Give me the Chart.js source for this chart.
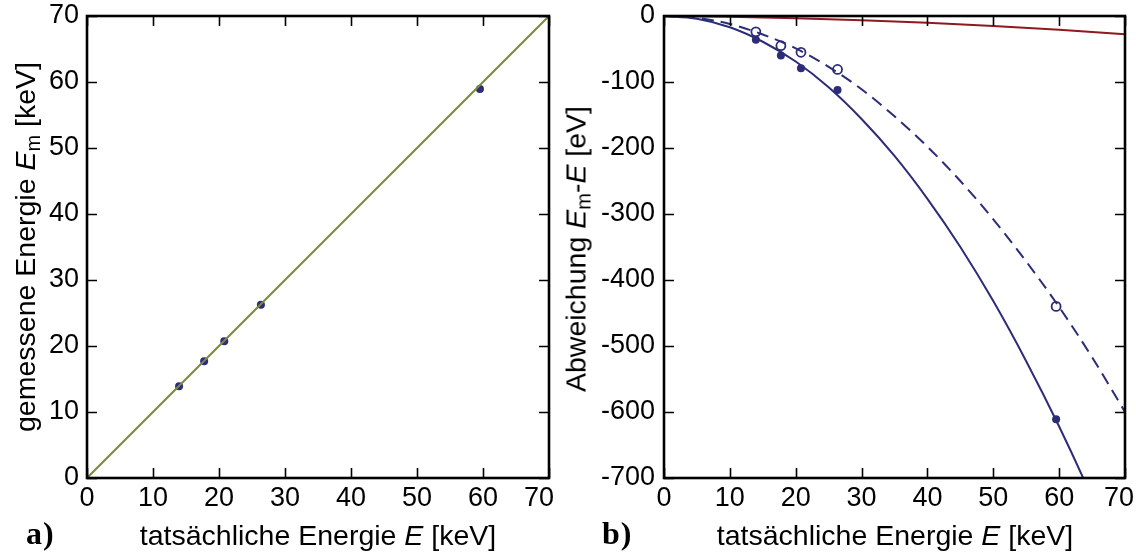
<!DOCTYPE html>
<html>
<head>
<meta charset="utf-8">
<script src="https://cdn.jsdelivr.net/npm/chart.js@4/dist/chart.umd.min.js"></script>
<style>
  body { margin: 0; background: #fff; }
  #wrap { position: relative; width: 1136px; height: 556px; overflow: hidden; font-family: "Liberation Sans", Arial, sans-serif; color: #000; }
  canvas { position: absolute; top: 0; }
  .t { position: absolute; font-size: 28.5px; white-space: nowrap; transform: translate(-50%, -50%); }
  .rot { transform: translate(-50%, -50%) rotate(-90deg); }
  .t sub { font-size: 20px; vertical-align: -5px; line-height: 0; }
  .lab { position: absolute; font-family: "Liberation Serif", serif; font-weight: bold; font-size: 32px; letter-spacing: 1px; }
</style>
</head>
<body>
<div id="wrap">
  <canvas id="chartA" width="575" height="556" style="left:0;width:575px;height:556px"></canvas>
  <canvas id="chartB" width="561" height="556" style="left:575px;width:561px;height:556px"></canvas>
  <div class="t" style="left:318px;top:535px">tatsächliche Energie <i>E</i> [keV]</div>
  <div class="t" style="left:895px;top:535px">tatsächliche Energie <i>E</i> [keV]</div>
  <div class="t rot" style="left:25px;top:247px">gemessene Energie <i>E</i><sub>m</sub> [keV]</div>
  <div class="t rot" style="left:576px;top:249px">Abweichung <i>E</i><sub>m</sub>-<i>E</i> [eV]</div>
  <div class="lab" style="left:26px;top:515px">a)</div>
  <div class="lab" style="left:602px;top:515px">b)</div>
</div>
<script>
// line energies (keV)
const energies = [13.95, 17.75, 20.8, 26.35, 59.54];
// measured energies (keV)
const measured = [13.9, 17.69, 20.72, 26.24, 58.93];
// deviation Em - E (eV), filled and open markers
const devFilled = [-36, -60, -79, -112, -611];
const devOpen = [-24, -45, -55, -81, -440];

// identity line for panel a
const diagX = [0, 70];
const diagY = [0, 70];

// fitted curves for panel b
const fitX = [0, 5, 10, 15, 20, 25, 30, 35, 40, 45, 50, 55, 60, 65, 70];
const fitSolid = [0, -4, -17, -39, -69, -108, -156, -212, -277, -350, -432, -523, -622, -730, -848];
const fitDashed = [0, -3, -12, -28, -49, -77, -111, -152, -198, -250, -308, -372, -441, -517, -600];
const redX = [0, 10, 20, 30, 40, 50, 60, 70];
const redY = [0, -1.2, -3.4, -6.4, -10.3, -15.1, -20.9, -27.5];

const NAVY = "#2c2c78";
const OLIVE = "#7b8a3c";
const DARKRED = "#8c1a1e";
const TICK_FONT = { family: "Liberation Sans", size: 27 };

function pts(xs, ys) {
  return xs.map((x, i) => ({ x, y: ys[i] }));
}

// frame + inward ticks on all four sides; last x label pulled in a bit
const framePlugin = {
  id: "frame",
  afterDraw(chart, args, opts) {
    const { ctx, chartArea: a, scales } = chart;
    ctx.save();
    ctx.strokeStyle = "#000";
    ctx.lineWidth = 1.6;
    ctx.beginPath();
    scales.x.ticks.forEach((t) => {
      const px = Math.round(scales.x.getPixelForValue(t.value)) + 0.5;
      ctx.moveTo(px, a.bottom); ctx.lineTo(px, a.bottom - 10);
      ctx.moveTo(px, a.top); ctx.lineTo(px, a.top + 10);
    });
    scales.y.ticks.forEach((t) => {
      const py = Math.round(scales.y.getPixelForValue(t.value)) + 0.5;
      ctx.moveTo(a.left, py); ctx.lineTo(a.left + 10, py);
      ctx.moveTo(a.right, py); ctx.lineTo(a.right - 10, py);
    });
    ctx.stroke();
    ctx.lineWidth = 2.6;
    ctx.strokeRect(a.left, a.top, a.right - a.left, a.bottom - a.top);

    const last = scales.x.ticks[scales.x.ticks.length - 1];
    ctx.fillStyle = "#000";
    ctx.font = TICK_FONT.size + "px " + TICK_FONT.family;
    ctx.textAlign = "center";
    ctx.textBaseline = "top";
    ctx.fillText(String(last.value), scales.x.getPixelForValue(last.value) - opts.lastShift, a.bottom + 4 + 3);
    ctx.restore();
  },
};

function axes(yMin, yMax, yStep, yWidth, tickPad) {
  return {
    x: {
      type: "linear", min: 0, max: 70,
      ticks: {
        stepSize: 10, color: "#000", padding: 4, maxRotation: 0, font: TICK_FONT,
        callback: (v) => (v === 70 ? "" : v),
      },
      grid: { display: false, drawTicks: false },
      border: { display: false },
      afterFit(s) { s.height = 78; s.paddingLeft = 0; s.paddingRight = 0; },
    },
    y: {
      type: "linear", min: yMin, max: yMax,
      ticks: { stepSize: yStep, color: "#000", padding: tickPad, font: TICK_FONT },
      grid: { display: false, drawTicks: false },
      border: { display: false },
      afterFit(s) { s.width = yWidth; s.paddingTop = 0; s.paddingBottom = 0; },
    },
  };
}

const common = {
  responsive: false,
  animation: false,
};

new Chart(document.getElementById("chartA"), {
  type: "scatter",
  data: {
    datasets: [
      {
        data: pts(diagX, diagY), showLine: true, borderColor: OLIVE, borderWidth: 2,
        pointRadius: 0,
      },
      {
        data: pts(energies, measured), pointRadius: 4, pointBackgroundColor: NAVY,
        pointBorderColor: NAVY, borderWidth: 0,
      },
    ],
  },
  options: {
    ...common,
    plugins: { legend: { display: false }, tooltip: { enabled: false }, frame: { lastShift: 10 } },
    layout: { padding: { top: 16, right: 26, left: 0, bottom: 0 } },
    scales: axes(0, 70, 10, 87, 8),
  },
  plugins: [framePlugin],
});

new Chart(document.getElementById("chartB"), {
  type: "scatter",
  data: {
    datasets: [
      {
        data: pts(fitX, fitSolid), showLine: true, borderColor: NAVY, borderWidth: 2,
        pointRadius: 0, cubicInterpolationMode: "monotone",
      },
      {
        data: pts(fitX, fitDashed), showLine: true, borderColor: NAVY, borderWidth: 2,
        borderDash: [12, 7], pointRadius: 0, cubicInterpolationMode: "monotone",
      },
      {
        data: pts(energies, devFilled), pointRadius: 4, pointBackgroundColor: NAVY,
        pointBorderColor: NAVY, borderWidth: 0,
      },
      {
        data: pts(energies, devOpen), pointRadius: 4.5, pointBackgroundColor: "#fff",
        pointBorderColor: NAVY, pointBorderWidth: 1.8,
      },
      {
        data: pts(redX, redY), showLine: true, borderColor: DARKRED, borderWidth: 2,
        pointRadius: 0, cubicInterpolationMode: "monotone",
      },
    ],
  },
  options: {
    ...common,
    plugins: { legend: { display: false }, tooltip: { enabled: false }, frame: { lastShift: 6 } },
    layout: { padding: { top: 16, right: 11, left: 0, bottom: 0 } },
    scales: axes(-700, 0, 100, 89, 9),
  },
  plugins: [framePlugin],
});
</script>
</body>
</html>
